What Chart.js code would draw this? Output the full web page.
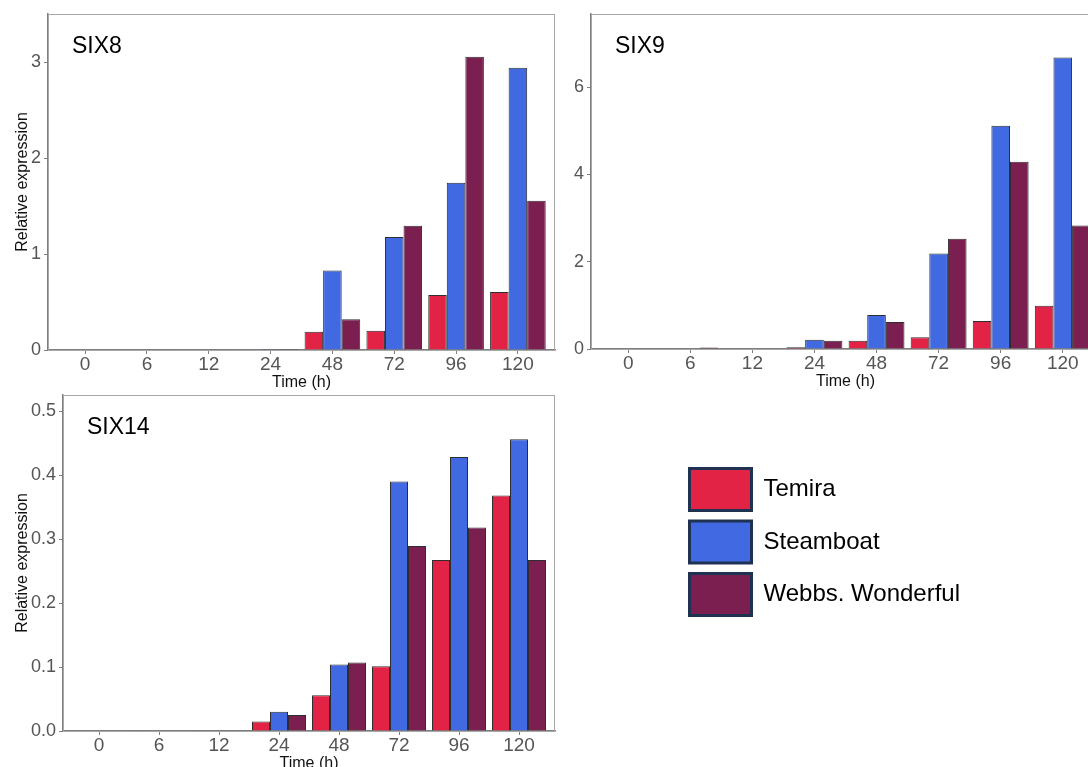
<!DOCTYPE html>
<html>
<head>
<meta charset="utf-8">
<script src="https://cdn.jsdelivr.net/npm/chart.js@4"></script>
<style>
  html, body { margin: 0; padding: 0; background: #fff; overflow: hidden; }
  body { width: 1088px; height: 767px; position: relative; }
  canvas { position: absolute; }
</style>
</head>
<body>
<canvas id="six8" width="560" height="390" style="left:0;top:0"></canvas>
<canvas id="six9" width="545" height="389" style="left:560px;top:0"></canvas>
<canvas id="six14" width="560" height="390" style="left:0;top:381px"></canvas>
<canvas id="legend" width="320" height="400" style="left:679px;top:458px"></canvas>
<script>
// time points (h) and cultivars
const categories = ['0', '6', '12', '24', '48', '72', '96', '120'];
const cultivars = ['Temira', 'Steamboat', 'Webbs. Wonderful'];
const colors = ['#e32346', '#4169e1', '#7b1e50'];

// SIX8 relative expression
const six8Temira    = [0.000, 0.000, 0.000, 0.004, 0.19, 0.20, 0.574, 0.605];
const six8Steamboat = [0.000, 0.002, 0.002, 0.010, 0.828, 1.176, 1.743, 2.94];
const six8Webbs     = [0.000, 0.002, 0.002, 0.010, 0.32, 1.294, 3.055, 1.555];

// SIX9 relative expression
const six9Temira    = [0.000, 0.000, 0.010, 0.04, 0.19, 0.27, 0.64, 0.99];
const six9Steamboat = [0.000, 0.000, 0.010, 0.21, 0.78, 2.19, 5.12, 6.68];
const six9Webbs     = [0.000, 0.035, 0.010, 0.19, 0.62, 2.53, 4.29, 2.83];

// SIX14 relative expression
const six14Temira    = [0.000, 0.001, 0.0005, 0.015, 0.056, 0.101, 0.267, 0.368];
const six14Steamboat = [0.000, 0.000, 0.0005, 0.030, 0.104, 0.390, 0.428, 0.456];
const six14Webbs     = [0.000, 0.000, 0.0005, 0.025, 0.107, 0.289, 0.318, 0.267];

// y tick labels
const six8Ticks = [0, 1, 2, 3];
const six9Ticks = [0, 2, 4, 6];
const six14Ticks = [0, 0.1, 0.2, 0.3, 0.4, 0.5];

const FONT = '"Liberation Sans", Arial, sans-serif';

// box around the plotting area plus the gene name in its corner
const panelFrame = {
  id: 'panelFrame',
  afterDraw(chart, args, opts) {
    const {ctx, chartArea: a} = chart;
    ctx.save();
    ctx.strokeStyle = '#a8a8a8';
    ctx.lineWidth = 1;
    ctx.strokeRect(a.left + 0.5, a.top + 0.5, a.right - a.left - 1, a.bottom - a.top);
    ctx.fillStyle = '#000';
    ctx.font = '23px ' + FONT;
    ctx.textBaseline = 'middle';
    ctx.fillText(opts.text, a.left + 24, a.top + 33);
    ctx.restore();
  }
};

function makePanel(id, name, series, yMax, yTicks, yWidth, showTitle, fmt) {
  const datasets = series.map((vals, k) => ({
    label: cultivars[k],
    data: vals.map((v, i) => ({x: i, y: v})),
    backgroundColor: colors[k],
    borderColor: '#2e2e2e',
    borderWidth: 1,
    categoryPercentage: 0.9,
    barPercentage: 1.0
  }));
  return new Chart(document.getElementById(id), {
    type: 'bar',
    data: {datasets},
    plugins: [panelFrame],
    options: {
      responsive: false,
      animation: false,
      layout: {padding: {top: 14, right: 5, left: 0, bottom: 0}},
      plugins: {
        legend: {display: false},
        tooltip: {enabled: false},
        panelFrame: {text: name}
      },
      scales: {
        x: {
          type: 'linear',
          min: -0.6,
          max: 7.6,
          offset: false,
          afterBuildTicks: s => { s.ticks = categories.map((c, i) => ({value: i})); },
          afterFit: s => { s.height = 40; },
          grid: {display: true, offset: false, drawOnChartArea: false, drawTicks: true, tickLength: 4, color: '#7f7f7f'},
          border: {display: true, color: '#7f7f7f', width: 1.5},
          ticks: {
            autoSkip: false, maxRotation: 0, padding: 1,
            color: '#555', font: {family: FONT, size: 19, lineHeight: 1},
            callback: v => categories[v]
          },
          title: {
            display: true, text: 'Time (h)', color: '#111',
            font: {family: FONT, size: 16, lineHeight: 1.2},
            padding: {top: 0, bottom: -2}
          }
        },
        y: {
          min: 0,
          max: yMax,
          afterBuildTicks: s => { s.ticks = yTicks.map(v => ({value: v})); },
          afterFit: s => { s.width = yWidth; },
          grid: {display: true, drawOnChartArea: false, drawTicks: true, tickLength: 4, color: '#7f7f7f'},
          border: {display: true, color: '#7f7f7f', width: 1.5},
          ticks: {
            padding: 3, color: '#555',
            font: {family: FONT, size: 18, lineHeight: 1},
            callback: fmt
          },
          title: {
            display: showTitle, text: 'Relative expression', color: '#111',
            font: {family: FONT, size: 16, lineHeight: 1.2},
            padding: {top: 13, bottom: 0}
          }
        }
      }
    }
  });
}

makePanel('six8', 'SIX8', [six8Temira, six8Steamboat, six8Webbs], 3.5, six8Ticks, 48, true, v => String(v));
makePanel('six9', 'SIX9', [six9Temira, six9Steamboat, six9Webbs], 7.68, six9Ticks, 31, false, v => String(v));
makePanel('six14', 'SIX14', [six14Temira, six14Steamboat, six14Webbs], 0.525, six14Ticks, 63, true, v => v.toFixed(1));

// shared legend for the three panels
new Chart(document.getElementById('legend'), {
  type: 'bar',
  data: {
    datasets: cultivars.map((c, k) => ({label: c, data: [], backgroundColor: colors[k]}))
  },
  options: {
    responsive: false,
    animation: false,
    scales: {x: {display: false}, y: {display: false}},
    plugins: {
      tooltip: {enabled: false},
      legend: {
        position: 'top',
        align: 'start',
        labels: {
          boxWidth: 62,
          boxHeight: 42,
          padding: 10.5,
          color: '#000',
          font: {family: FONT, size: 24},
          generateLabels: chart => chart.data.datasets.map((ds, i) => ({
            text: ds.label,
            fillStyle: ds.backgroundColor,
            strokeStyle: '#1f3252',
            lineWidth: 3,
            datasetIndex: i
          }))
        }
      }
    }
  }
});
</script>
</body>
</html>
